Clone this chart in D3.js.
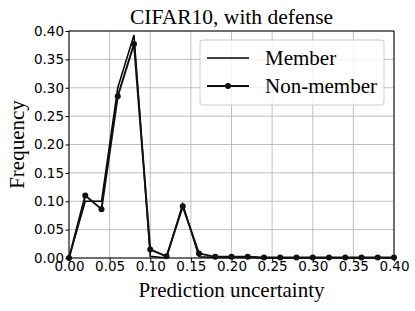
<!DOCTYPE html>
<html>
<head>
<meta charset="utf-8">
<script src="https://cdn.jsdelivr.net/npm/d3@7"></script>
<style>
  body { margin: 0; background: #fff; }
</style>
</head>
<body>
<svg id="chart" width="415" height="311"></svg>
<script>
const bins = [0, 0.02, 0.04, 0.06, 0.08, 0.10, 0.12, 0.14, 0.16, 0.18, 0.20, 0.22, 0.24, 0.26, 0.28, 0.30, 0.32, 0.34, 0.36, 0.38, 0.40];
const member = [0, 0.100, 0.100, 0.300, 0.393, 0.003, 0.000, 0.095, 0.002, 0.001, 0.001, 0.001, 0.000, 0.000, 0.000, 0.000, 0.000, 0.000, 0.000, 0.000, 0.000];
const nonMember = [0, 0.110, 0.086, 0.285, 0.377, 0.015, 0.003, 0.091, 0.008, 0.002, 0.002, 0.002, 0.001, 0.001, 0.001, 0.001, 0.001, 0.001, 0.001, 0.001, 0.001];
const xTicks = [0, 0.05, 0.10, 0.15, 0.20, 0.25, 0.30, 0.35, 0.40];
const yTicks = [0, 0.05, 0.10, 0.15, 0.20, 0.25, 0.30, 0.35, 0.40];

const svg = d3.select("#chart");
const mLeft = 69, mRight = 394, mTop = 31, mBottom = 258;

const x = d3.scaleLinear().domain([0, 0.4]).range([mLeft, mRight]);
const y = d3.scaleLinear().domain([0, 0.4]).range([mBottom, mTop]);

// grid
svg.append("g")
  .selectAll("line")
  .data(xTicks)
  .join("line")
  .attr("x1", d => x(d)).attr("x2", d => x(d))
  .attr("y1", mTop).attr("y2", mBottom)
  .attr("stroke", "#b0b0b0").attr("stroke-width", 0.8);

svg.append("g")
  .selectAll("line")
  .data(yTicks)
  .join("line")
  .attr("y1", d => y(d)).attr("y2", d => y(d))
  .attr("x1", mLeft).attr("x2", mRight)
  .attr("stroke", "#b0b0b0").attr("stroke-width", 0.8);

// axes
const xAxis = svg.append("g")
  .attr("transform", `translate(0,${mBottom})`)
  .call(d3.axisBottom(x).tickValues(xTicks).tickFormat(d3.format(".2f")).tickSize(3.5));
const yAxis = svg.append("g")
  .attr("transform", `translate(${mLeft},0)`)
  .call(d3.axisLeft(y).tickValues(yTicks).tickFormat(d3.format(".2f")).tickSize(3.5));

[xAxis, yAxis].forEach(a => {
  a.select(".domain").remove();
  a.selectAll("text")
    .attr("fill", "#000")
    .style("font-family", "DejaVu Sans")
    .style("font-size", "13.5px");
  a.selectAll("line").attr("stroke", "#000");
});
xAxis.selectAll("text").attr("dy", "0.8em").attr("y", 2);
yAxis.selectAll("text").attr("x", -5);

svg.append("rect")
  .attr("x", mLeft).attr("y", mTop)
  .attr("width", mRight - mLeft).attr("height", mBottom - mTop)
  .attr("fill", "none").attr("stroke", "#000").attr("stroke-width", 1);

// lines
const line = d3.line()
  .x((d, i) => x(bins[i]))
  .y(d => y(d));

svg.append("path")
  .attr("d", line(member))
  .attr("fill", "none")
  .attr("stroke", "#000")
  .attr("stroke-width", 1.5);

svg.append("path")
  .attr("d", line(nonMember))
  .attr("fill", "none")
  .attr("stroke", "#111")
  .attr("stroke-width", 2);

svg.append("g")
  .selectAll("circle")
  .data(nonMember)
  .join("circle")
  .attr("cx", (d, i) => x(bins[i]))
  .attr("cy", d => y(d))
  .attr("r", 3)
  .attr("fill", "#111");

// legend
const lg = svg.append("g");
lg.append("rect")
  .attr("x", 200).attr("y", 40)
  .attr("width", 184).attr("height", 65)
  .attr("rx", 3)
  .attr("fill", "#fff").attr("fill-opacity", 0.8)
  .attr("stroke", "#ccc").attr("stroke-width", 1);

lg.append("line")
  .attr("x1", 207).attr("x2", 249).attr("y1", 58).attr("y2", 58)
  .attr("stroke", "#000").attr("stroke-width", 1.5);
lg.append("line")
  .attr("x1", 207).attr("x2", 249).attr("y1", 86).attr("y2", 86)
  .attr("stroke", "#111").attr("stroke-width", 2);
lg.append("circle")
  .attr("cx", 228).attr("cy", 86).attr("r", 3).attr("fill", "#111");

lg.selectAll("text")
  .data(["Member", "Non-member"])
  .join("text")
  .attr("x", 265)
  .attr("y", (d, i) => 58 + i * 28)
  .attr("dy", "0.35em")
  .style("font-family", "Liberation Serif")
  .style("font-size", "21px")
  .text(d => d);

// title and labels
svg.append("text")
  .attr("x", (mLeft + mRight) / 2).attr("y", 24)
  .attr("text-anchor", "middle")
  .style("font-family", "Liberation Serif")
  .style("font-size", "21.5px")
  .text("CIFAR10, with defense");

svg.append("text")
  .attr("x", (mLeft + mRight) / 2).attr("y", 297)
  .attr("text-anchor", "middle")
  .style("font-family", "Liberation Serif")
  .style("font-size", "21px")
  .text("Prediction uncertainty");

svg.append("text")
  .attr("transform", `translate(24,${(mTop + mBottom) / 2}) rotate(-90)`)
  .attr("text-anchor", "middle")
  .style("font-family", "Liberation Serif")
  .style("font-size", "21px")
  .text("Frequency");
</script>
</body>
</html>
